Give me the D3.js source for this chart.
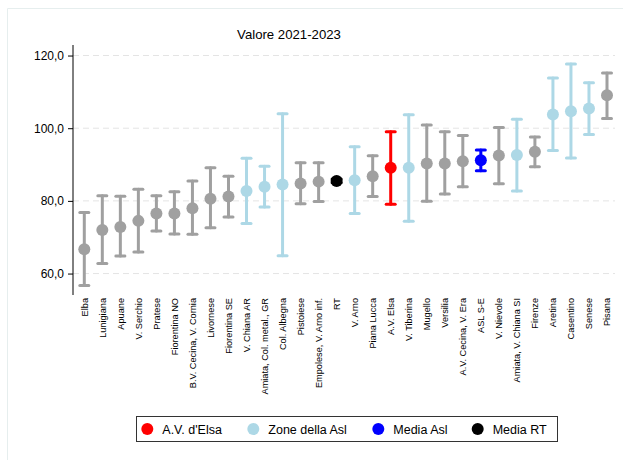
<!DOCTYPE html>
<html><head><meta charset="utf-8">
<script src="https://cdn.jsdelivr.net/npm/d3@7"></script>
<style>body{margin:0;background:#fff;}svg{display:block;font-family:"Liberation Sans",Arial,sans-serif;}</style>
</head><body><svg id="c" width="623" height="460"></svg>
<script>
const categories = ["Elba","Lunigiana","Apuane","V. Serchio","Pratese","Fiorentina NO","B.V. Cecina, V. Cornia","Livornese","Fiorentina SE","V. Chiana AR","Amiata, Col. metal., GR","Col. Albegna","Pistoiese","Empolese, V. Arno inf.","RT","V. Arno","Piana Lucca","A.V. Elsa","V. Tiberina","Mugello","Versilia","A.V. Cecina, V. Era","ASL S-E","V. Nievole","Amiata, V. Chiana SI","Firenze","Aretina","Casentino","Senese","Pisana"];
const values = [66.7,72.0,72.8,74.5,76.5,76.5,78.0,80.6,81.2,82.7,83.9,84.5,84.8,85.3,85.5,85.7,86.8,89.1,89.1,90.3,90.3,90.9,91.2,92.5,92.6,93.5,103.8,104.7,105.4,109.1];
const lower  = [56.7,62.8,64.8,65.9,71.7,70.9,70.8,72.6,75.6,73.8,78.3,64.9,79.2,79.8,85.0,76.5,81.2,79.1,74.4,79.9,81.9,83.9,88.3,84.7,82.7,89.4,93.9,91.8,98.3,102.7];
const upper  = [76.8,81.4,81.3,83.2,81.4,82.5,85.5,89.1,86.8,91.7,89.5,104.0,90.5,90.5,86.0,94.9,92.4,99.0,103.7,100.9,99.0,98.0,94.0,100.2,102.5,97.6,113.8,117.7,112.5,115.2];
const groups = ["Altre","Altre","Altre","Altre","Altre","Altre","Altre","Altre","Altre","Asl","Asl","Asl","Altre","Altre","RT","Asl","Altre","Elsa","Asl","Altre","Altre","Altre","MediaAsl","Altre","Asl","Altre","Asl","Asl","Asl","Altre"];
const legendKeys = ["Elsa","Asl","MediaAsl","RT"];
const legendLabels = ["A.V. d'Elsa","Zone della Asl","Media Asl","Media RT"];
const yTicks = [60,80,100,120];
const title = "Valore 2021-2023";

const svg = d3.select("#c");
const color = d3.scaleOrdinal().domain(["Altre","Asl","Elsa","MediaAsl","RT"])
  .range(["#a0a0a0","#add8e6","#ff0000","#0000ff","#000000"]);

// outer frame
svg.append("path").attr("d","M7.5,460 V8.5 H623").attr("fill","none").attr("stroke","#e6eeee");

const x = d3.scalePoint().domain(categories).range([84.3, 607]);
const y = d3.scaleLinear().domain([54.1, 122.9]).range([295, 45]);

// grid
svg.append("g").selectAll("line").data(yTicks).join("line")
  .attr("x1",73).attr("x2",615).attr("y1",d=>y(d)).attr("y2",d=>y(d))
  .attr("stroke","#e4e4e4").attr("stroke-dasharray","6,4");

// y axis
const fmt = d => d3.format(".1f")(d).replace(".", ",");
const ya = svg.append("g").attr("transform","translate(73,0)")
  .call(d3.axisLeft(y).tickValues(yTicks).tickFormat(fmt).tickSize(5).tickPadding(4));
ya.select(".domain").attr("d","M0,45V295").attr("stroke","#000");
ya.selectAll(".tick line").attr("stroke","#000");
ya.selectAll("text").attr("font-size","12px").attr("fill","#000").attr("font-family","Liberation Sans, Arial, sans-serif");

// x labels
svg.append("g").selectAll("text").data(categories).join("text")
  .attr("transform",d=>`translate(${x(d)},298) rotate(-90)`)
  .attr("text-anchor","end").attr("dy","0.35em")
  .attr("font-size","9.2px").attr("fill","#000").text(d=>d);

// title
svg.append("text").attr("x",289).attr("y",39).attr("text-anchor","middle")
  .attr("font-size","13.2px").attr("fill","#000").text(title);

// error bars
const g = svg.append("g");
const data = categories.map((c,i)=>({c, v:values[i], lo:lower[i], hi:upper[i], g:groups[i]}));
const eb = g.selectAll("g").data(data).join("g").attr("stroke",d=>color(d.g)).attr("stroke-width",3).attr("stroke-linecap","round");
eb.append("line").attr("x1",d=>x(d.c)).attr("x2",d=>x(d.c)).attr("y1",d=>y(d.lo)).attr("y2",d=>y(d.hi));
eb.append("line").attr("x1",d=>x(d.c)-4.5).attr("x2",d=>x(d.c)+4.5).attr("y1",d=>y(d.lo)).attr("y2",d=>y(d.lo));
eb.append("line").attr("x1",d=>x(d.c)-4.5).attr("x2",d=>x(d.c)+4.5).attr("y1",d=>y(d.hi)).attr("y2",d=>y(d.hi));
eb.append("circle").attr("cx",d=>x(d.c)).attr("cy",d=>y(d.v)).attr("r",6).attr("fill",d=>color(d.g)).attr("stroke","none");

// legend
const lg = svg.append("g");
lg.append("rect").attr("x",136.5).attr("y",416.5).attr("width",421).attr("height",25)
  .attr("fill","#fff").attr("stroke","#333").attr("stroke-width",1);
const lx = [147.3,253.3,378.3,477.7];
legendKeys.forEach((k,i)=>{
  lg.append("circle").attr("cx",lx[i]).attr("cy",429).attr("r",6).attr("fill",color(k));
  lg.append("text").attr("x",lx[i]+15).attr("y",433.5).attr("font-size","12.5px").attr("fill","#000").text(legendLabels[i]);
});
</script></body></html>
